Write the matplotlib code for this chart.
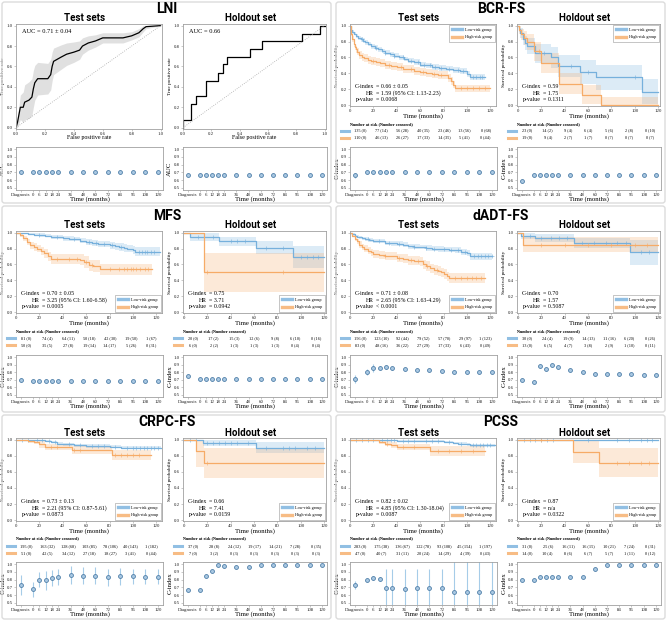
import numpy as np
import matplotlib
matplotlib.use("Agg")
import matplotlib.pyplot as plt
from matplotlib.lines import Line2D
from matplotlib.patches import FancyBboxPatch

# ---------------------------------------------------------------- data
months_cidx = [-12, 0, 6, 12, 18, 24, 36, 48, 60, 72, 84, 96, 108, 120]
months_cidx_labels = ["Diagnosis", "0", "6", "12", "18", "24", "36", "48", "60", "72", "84", "96", "108", "120"]

# LNI ROC
lni_test_fpr = [0, 0.01, 0.03, 0.05, 0.06, 0.09, 0.11, 0.12, 0.13, 0.15, 0.22, 0.24, 0.25, 0.26, 0.31, 0.35,
                0.40, 0.44, 0.46, 0.50, 0.55, 0.60, 0.74, 0.80, 0.85, 0.88, 0.90, 1.0]
lni_test_tpr = [0, 0.05, 0.20, 0.20, 0.25, 0.27, 0.30, 0.38, 0.44, 0.48, 0.48, 0.52, 0.60, 0.65, 0.69, 0.72,
                0.74, 0.76, 0.80, 0.83, 0.85, 0.88, 0.88, 0.90, 0.93, 0.97, 0.99, 1.0]
lni_test_std = [0, 0.05, 0.12, 0.15, 0.17, 0.18, 0.18, 0.18, 0.17, 0.16, 0.15, 0.15, 0.14, 0.13, 0.12, 0.11,
                0.10, 0.09, 0.08, 0.07, 0.06, 0.05, 0.05, 0.04, 0.04, 0.03, 0.02, 0]
lni_hold_fpr = [0, 0, 0.06, 0.09, 0.16, 0.25, 0.28, 0.31, 0.47, 0.56, 0.84, 0.97, 1.0]
lni_hold_tpr = [0, 0.08, 0.23, 0.31, 0.46, 0.54, 0.62, 0.69, 0.77, 0.85, 0.92, 1.0, 1.0]
lni_auc_test = [0.71] * 14
lni_auc_hold = [0.66] * 14

# BCR-FS
bcr_tl_t = [0, 1, 2, 3, 5, 7, 9, 11, 13, 15, 18, 21, 24, 27, 30, 34, 38, 42, 46, 50, 55, 60, 65, 70, 76, 82, 88, 94, 100, 103]
bcr_tl_s = [1.0, 0.95, 0.92, 0.90, 0.87, 0.85, 0.83, 0.81, 0.79, 0.77, 0.74, 0.72, 0.70, 0.68, 0.66, 0.64, 0.62, 0.60,
            0.58, 0.56, 0.54, 0.51, 0.50, 0.48, 0.47, 0.46, 0.44, 0.43, 0.39, 0.355]
bcr_tl_ci = [0, 0.015, 0.02, 0.02, 0.025, 0.025, 0.03, 0.03, 0.03, 0.03, 0.03, 0.03, 0.03, 0.03, 0.03, 0.03, 0.03,
             0.03, 0.03, 0.03, 0.035, 0.035, 0.035, 0.035, 0.035, 0.035, 0.04, 0.04, 0.04, 0.04]
bcr_tl_cens = [10, 22, 30, 38, 45, 52, 58, 63, 68, 73, 78, 85, 92, 97, 105, 108, 111, 113]
bcr_th_t = [0, 1, 2, 3, 4, 5, 6, 8, 10, 12, 15, 18, 22, 26, 30, 35, 40, 45, 50, 55, 60, 65, 70, 75, 80, 84, 86, 88, 90]
bcr_th_s = [1.0, 0.90, 0.83, 0.77, 0.73, 0.70, 0.67, 0.63, 0.61, 0.59, 0.57, 0.56, 0.54, 0.53, 0.51, 0.49, 0.48, 0.46,
            0.45, 0.43, 0.42, 0.41, 0.39, 0.38, 0.38, 0.34, 0.30, 0.26, 0.21]
bcr_th_ci = [0, 0.03, 0.035, 0.04, 0.04, 0.045, 0.045, 0.045, 0.05, 0.05, 0.05, 0.05, 0.05, 0.05, 0.05, 0.05, 0.05,
             0.05, 0.05, 0.05, 0.05, 0.05, 0.05, 0.05, 0.05, 0.05, 0.05, 0.05, 0.05]
bcr_th_cens = [20, 33, 44, 52, 62, 72, 78, 95, 100, 105, 110, 115]
bcr_hl_t = [0, 1, 2, 4, 6, 8, 15, 28, 34, 53, 67, 106]
bcr_hl_s = [1.0, 0.96, 0.91, 0.83, 0.78, 0.74, 0.65, 0.60, 0.49, 0.42, 0.35, 0.17]
bcr_hl_ci = [0, 0.04, 0.06, 0.08, 0.09, 0.10, 0.12, 0.13, 0.14, 0.15, 0.16, 0.16]
bcr_hl_cens = [22, 45, 60, 100]
bcr_hh_t = [0, 1, 3, 5, 8, 14, 20, 35, 55, 71]
bcr_hh_s = [1.0, 0.95, 0.89, 0.84, 0.79, 0.68, 0.53, 0.27, 0.13, 0.0]
bcr_hh_ci = [0, 0.05, 0.07, 0.09, 0.10, 0.12, 0.13, 0.13, 0.12, 0.10]
bcr_hh_cens = [18]
bcr_risk_tl = [(135, 0), (77, 14), (56, 28), (40, 35), (23, 46), (13, 56), (0, 68)]
bcr_risk_th = [(110, 0), (46, 13), (26, 27), (17, 33), (14, 35), (5, 41), (0, 44)]
bcr_risk_hl = [(23, 0), (14, 2), (9, 4), (6, 4), (5, 6), (2, 8), (0, 10)]
bcr_risk_hh = [(19, 0), (9, 4), (2, 7), (1, 7), (0, 7), (0, 7), (0, 7)]
bcr_c_test = [0.66, 0.71, 0.71, 0.71, 0.71, 0.71, 0.71, 0.71, 0.71, 0.71, 0.71, 0.71, 0.71, 0.71]
bcr_c_test_err = [0.03, 0.02, 0.02, 0.02, 0.02, 0.02, 0.02, 0.02, 0.02, 0.02, 0.02, 0.02, 0.02, 0.02]
bcr_c_hold = [0.59, 0.67, 0.67, 0.67, 0.67, 0.67, 0.67, 0.67, 0.67, 0.67, 0.67, 0.67, 0.67, 0.67]

# MFS
mfs_tl_t = [0, 5, 10, 15, 20, 25, 30, 35, 40, 45, 50, 55, 60, 65, 70, 75, 80, 85, 88, 92, 95, 100, 102]
mfs_tl_s = [1.0, 0.99, 0.985, 0.975, 0.97, 0.96, 0.95, 0.94, 0.93, 0.925, 0.92, 0.90, 0.88, 0.87, 0.86, 0.855, 0.84,
            0.83, 0.82, 0.81, 0.80, 0.78, 0.76]
mfs_tl_ci = [0, 0.01, 0.01, 0.015, 0.02, 0.02, 0.025, 0.025, 0.03, 0.03, 0.03, 0.035, 0.035, 0.04, 0.04, 0.04, 0.045,
             0.045, 0.045, 0.05, 0.05, 0.05, 0.055]
mfs_tl_cens = [20, 35, 50, 62, 68, 75, 82, 90, 105, 108, 110, 112, 115, 118]
mfs_th_t = [0, 3, 6, 9, 12, 15, 18, 21, 24, 27, 30, 55, 58, 62, 66, 72]
mfs_th_s = [1.0, 0.97, 0.93, 0.88, 0.84, 0.82, 0.80, 0.77, 0.74, 0.70, 0.67, 0.66, 0.63, 0.59, 0.58, 0.54]
mfs_th_ci = [0, 0.02, 0.03, 0.04, 0.045, 0.05, 0.05, 0.055, 0.06, 0.06, 0.065, 0.065, 0.07, 0.07, 0.07, 0.07]
mfs_th_cens = [35, 45, 52, 60, 65, 80, 88, 92, 95, 98, 100, 103, 106, 110, 113]
mfs_hl_t = [0, 5, 30, 62, 93]
mfs_hl_s = [1.0, 0.95, 0.89, 0.81, 0.69]
mfs_hl_ci = [0, 0.05, 0.06, 0.08, 0.14]
mfs_hl_cens = [12, 25, 40, 45, 52, 70, 85, 100, 105, 110, 115]
mfs_hh_t = [0, 17]
mfs_hh_s = [1.0, 0.50]
mfs_hh_ci = [0, 0.24]
mfs_hh_cens = [20, 85]
mfs_risk_tl = [(81, 0), (74, 4), (64, 11), (50, 18), (42, 30), (19, 50), (1, 67)]
mfs_risk_th = [(50, 0), (35, 5), (27, 8), (19, 14), (14, 17), (5, 26), (0, 31)]
mfs_risk_hl = [(20, 0), (17, 2), (15, 3), (12, 6), (9, 8), (6, 10), (0, 16)]
mfs_risk_hh = [(6, 0), (2, 2), (1, 3), (1, 3), (1, 3), (0, 4), (0, 4)]
mfs_c_test = [0.70, 0.69, 0.69, 0.69, 0.69, 0.69, 0.69, 0.69, 0.69, 0.69, 0.69, 0.69, 0.69, 0.69]
mfs_c_test_err = [0.03, 0.01, 0.01, 0.01, 0.01, 0.01, 0.01, 0.01, 0.01, 0.01, 0.01, 0.01, 0.01, 0.01]
mfs_c_hold = [0.75, 0.71, 0.71, 0.71, 0.71, 0.71, 0.71, 0.71, 0.71, 0.71, 0.71, 0.71, 0.71, 0.71]

# dADT-FS
dadt_tl_t = [0, 2, 4, 6, 8, 10, 13, 16, 20, 25, 30, 35, 40, 45, 50, 55, 60, 65, 70, 75, 80, 85, 90, 95, 100, 103]
dadt_tl_s = [1.0, 0.98, 0.96, 0.95, 0.94, 0.93, 0.92, 0.91, 0.90, 0.89, 0.87, 0.865, 0.86, 0.85, 0.83, 0.825, 0.82,
             0.81, 0.80, 0.795, 0.79, 0.785, 0.78, 0.76, 0.74, 0.70]
dadt_tl_ci = [0, 0.01, 0.015, 0.015, 0.02, 0.02, 0.02, 0.025, 0.025, 0.025, 0.03, 0.03, 0.03, 0.03, 0.03, 0.03,
              0.03, 0.035, 0.035, 0.035, 0.035, 0.035, 0.035, 0.04, 0.04, 0.04]
dadt_tl_cens = [15, 25, 33, 42, 55, 65, 72, 80, 86, 92, 98, 106, 109, 112, 115, 118, 121]
dadt_th_t = [0, 2, 4, 6, 8, 10, 12, 15, 18, 20, 25, 30, 35, 40, 45, 50, 55, 60, 62, 65, 68, 72, 75, 78, 80, 83, 85]
dadt_th_s = [1.0, 0.96, 0.92, 0.89, 0.85, 0.82, 0.80, 0.77, 0.75, 0.73, 0.72, 0.71, 0.70, 0.68, 0.67, 0.65, 0.645,
             0.64, 0.60, 0.58, 0.55, 0.53, 0.52, 0.50, 0.48, 0.45, 0.43]
dadt_th_ci = [0, 0.02, 0.03, 0.035, 0.04, 0.04, 0.045, 0.045, 0.05, 0.05, 0.05, 0.05, 0.05, 0.055, 0.055, 0.055,
              0.055, 0.055, 0.055, 0.06, 0.06, 0.06, 0.06, 0.06, 0.06, 0.06, 0.06]
dadt_th_cens = [30, 42, 52, 58, 66, 74, 90, 95, 100, 104, 108, 112]
dadt_hl_t = [0, 3, 15, 48, 96]
dadt_hl_s = [1.0, 0.96, 0.93, 0.87, 0.75]
dadt_hl_ci = [0, 0.04, 0.05, 0.06, 0.16]
dadt_hl_cens = [10, 20, 28, 35, 42, 55, 65, 75, 85, 92, 105, 112]
dadt_hh_t = [0, 4]
dadt_hh_s = [1.0, 0.85]
dadt_hh_ci = [0, 0.10]
dadt_hh_cens = [20, 40, 60, 80, 100, 110]
dadt_risk_tl = [(156, 0), (123, 10), (92, 44), (79, 52), (57, 70), (29, 97), (1, 123)]
dadt_risk_th = [(83, 0), (48, 16), (36, 22), (27, 29), (17, 33), (6, 43), (0, 49)]
dadt_risk_hl = [(30, 0), (24, 4), (19, 9), (14, 13), (11, 16), (6, 20), (0, 26)]
dadt_risk_hh = [(13, 0), (6, 5), (4, 7), (3, 8), (2, 9), (1, 10), (0, 11)]
dadt_c_test = [0.71, 0.80, 0.855, 0.86, 0.867, 0.855, 0.84, 0.83, 0.825, 0.82, 0.81, 0.805, 0.80, 0.80]
dadt_c_test_err = [0.05, 0.04, 0.05, 0.02, 0.02, 0.02, 0.01, 0.01, 0.01, 0.01, 0.01, 0.01, 0.01, 0.01]
dadt_c_hold = [0.70, 0.67, 0.88, 0.85, 0.90, 0.867, 0.83, 0.80, 0.78, 0.775, 0.775, 0.775, 0.76, 0.76]

# CRPC-FS
crpc_tl_t = [0, 15, 20, 25, 30, 35, 40, 50, 60, 80, 90]
crpc_tl_s = [1.0, 0.995, 0.99, 0.98, 0.97, 0.95, 0.94, 0.93, 0.92, 0.91, 0.90]
crpc_tl_ci = [0, 0.005, 0.008, 0.01, 0.012, 0.015, 0.015, 0.018, 0.02, 0.02, 0.022]
crpc_tl_cens = [5, 10, 18, 22, 28, 33, 45, 55, 65, 70, 75, 85, 95, 100, 103, 106, 109, 112, 115, 118, 121]
crpc_th_t = [0, 10, 15, 20, 25, 48, 82]
crpc_th_s = [1.0, 0.98, 0.97, 0.94, 0.91, 0.87, 0.81]
crpc_th_ci = [0, 0.02, 0.03, 0.04, 0.04, 0.05, 0.06]
crpc_th_cens = [30, 35, 50, 55, 85, 90, 95, 100, 105]
crpc_hl_t = [0, 16, 62]
crpc_hl_s = [1.0, 0.96, 0.90]
crpc_hl_ci = [0, 0.04, 0.07]
crpc_hl_cens = [5, 10, 20, 25, 30, 35, 40, 45, 55, 70, 85, 90, 95, 105, 112]
crpc_hh_t = [0, 10, 17]
crpc_hh_s = [1.0, 0.86, 0.71]
crpc_hh_ci = [0, 0.20, 0.19]
crpc_hh_cens = [20]
crpc_risk_tl = [(195, 0), (163, 32), (128, 68), (103, 85), (78, 106), (40, 143), (1, 182)]
crpc_risk_th = [(51, 0), (42, 5), (34, 12), (27, 18), (18, 27), (3, 41), (0, 44)]
crpc_risk_hl = [(37, 0), (28, 8), (24, 12), (19, 17), (14, 21), (7, 28), (0, 35)]
crpc_risk_hh = [(7, 0), (3, 2), (0, 3), (0, 3), (0, 3), (0, 3), (0, 3)]
crpc_c_test = [0.735, 0.675, 0.80, 0.79, 0.82, 0.835, 0.86, 0.85, 0.85, 0.83, 0.845, 0.845, 0.84, 0.84]
crpc_c_test_err = [0.13, 0.10, 0.10, 0.12, 0.10, 0.10, 0.12, 0.11, 0.11, 0.11, 0.11, 0.10, 0.10, 0.10]
crpc_c_hold = [0.66, 0.66, 0.853, 0.918, 0.99, 0.983, 0.966, 0.966, 0.995, 0.995, 0.995, 0.985, 0.985, 0.985]

# PCSS
pcss_tl_t = [0, 25, 30, 40, 60, 80, 88, 92, 100, 103]
pcss_tl_s = [1.0, 0.995, 0.99, 0.985, 0.98, 0.97, 0.96, 0.95, 0.94, 0.93]
pcss_tl_ci = [0, 0.004, 0.006, 0.008, 0.01, 0.012, 0.015, 0.015, 0.018, 0.02]
pcss_tl_cens = [5, 10, 15, 20, 27, 32, 35, 38, 45, 50, 55, 65, 70, 75, 85, 95, 105, 108, 111, 114, 117, 120]
pcss_th_t = [0, 20, 25, 30, 35, 40, 68]
pcss_th_s = [1.0, 0.99, 0.97, 0.95, 0.93, 0.91, 0.86]
pcss_th_ci = [0, 0.01, 0.02, 0.03, 0.035, 0.04, 0.06]
pcss_th_cens = [32, 45, 55, 75, 85, 95, 105]
pcss_hl_t = [0]
pcss_hl_s = [1.0]
pcss_hl_ci = [0]
pcss_hl_cens = [5, 10, 15, 20, 25, 30, 60, 85, 95, 105, 110, 115]
pcss_hh_t = [0, 47, 69]
pcss_hh_s = [1.0, 0.85, 0.71]
pcss_hh_ci = [0, 0.14, 0.18]
pcss_hh_cens = [20, 85, 95, 105, 112]
pcss_risk_tl = [(283, 0), (175, 38), (136, 67), (122, 78), (93, 108), (45, 154), (1, 197)]
pcss_risk_th = [(47, 0), (40, 7), (31, 11), (20, 24), (14, 29), (4, 39), (0, 43)]
pcss_risk_hl = [(31, 0), (25, 6), (16, 11), (16, 15), (10, 21), (7, 24), (0, 31)]
pcss_risk_hh = [(14, 0), (10, 4), (8, 6), (6, 7), (5, 7), (1, 11), (0, 12)]
pcss_c_test = [0.73, 0.79, 0.82, 0.81, 0.685, 0.685, 0.68, 0.685, 0.685, 0.685, 0.64, 0.64, 0.64, 0.64]
pcss_c_test_err = [0.05, 0.01, 0.03, 0.03, 0.26, 0.26, 0.26, 0.26, 0.26, 0.26, 0.40, 0.40, 0.40, 0.40]
pcss_c_hold = [0.79, 0.79, 0.84, 0.84, 0.84, 0.84, 0.84, 0.84, 0.935, 0.987, 0.987, 0.987, 0.987, 0.987]

# stats texts
stats = {
    "BCR-FS": ([("C-index", "= 0.66 ± 0.05"), ("HR", "= 1.59 (95% CI: 1.13-2.23)"), ("p-value", "= 0.0068")],
               [("C-index", "= 0.59"), ("HR", "= 1.75"), ("p-value", "= 0.1311")]),
    "MFS": ([("C-index", "= 0.70 ± 0.05"), ("HR", "= 3.25 (95% CI: 1.60-6.58)"), ("p-value", "= 0.0005")],
            [("C-index", "= 0.75"), ("HR", "= 3.71"), ("p-value", "= 0.0942")]),
    "dADT-FS": ([("C-index", "= 0.71 ± 0.08"), ("HR", "= 2.65 (95% CI: 1.63-4.29)"), ("p-value", "< 0.0001")],
                [("C-index", "= 0.70"), ("HR", "= 1.57"), ("p-value", "= 0.5087")]),
    "CRPC-FS": ([("C-index", "= 0.73 ± 0.13"), ("HR", "= 2.21 (95% CI: 0.87-5.61)"), ("p-value", "= 0.0873")],
                [("C-index", "= 0.66"), ("HR", "= 7.41"), ("p-value", "= 0.0159")]),
    "PCSS": ([("C-index", "= 0.82 ± 0.02"), ("HR", "= 4.85 (95% CI: 1.30-18.04)"), ("p-value", "= 0.0087")],
             [("C-index", "= 0.87"), ("HR", "= n/a"), ("p-value", "= 0.0322")]),
}

# ---------------------------------------------------------------- style
plt.rcParams.update({
    "font.family": ["Liberation Serif", "DejaVu Serif"],
    "axes.unicode_minus": False,
    "axes.edgecolor": "#a0a0a0", "axes.linewidth": 0.6,
    "xtick.color": "#a0a0a0", "ytick.color": "#a0a0a0",
    "xtick.labelcolor": "#222222", "ytick.labelcolor": "#222222",
    "xtick.major.size": 1.5, "ytick.major.size": 1.5,
    "xtick.major.width": 0.4, "ytick.major.width": 0.4,
    "xtick.labelsize": 3.5, "ytick.labelsize": 3.5,
    "xtick.major.pad": 0.8, "ytick.major.pad": 0.8,
    "axes.labelsize": 4.9, "axes.labelpad": 1.0,
})
BLUE = "#76b0dc"
ORANGE = "#f6ab67"
TITLE_FONT = "Roboto"

W, H = 669, 621
fig = plt.figure(figsize=(W / 100, H / 100), dpi=100)


def add_ax(x0, y0, x1, y1):
    return fig.add_axes([x0 / W, 1 - y1 / H, (x1 - x0) / W, (y1 - y0) / H])


def ftext(x, y, s, **kw):
    fig.text(x / W, 1 - y / H, s, **kw)


def place_xlabel(ax, px_below, ax_h):
    ax.xaxis.label.set_va("center")
    ax.xaxis.set_label_coords(0.5, -px_below / ax_h)


def km(ax, t, s, ci, end, cens, color):
    x = np.r_[t, end]
    y = np.r_[s, s[-1]]
    c = np.r_[ci, ci[-1]]
    ax.fill_between(x, np.clip(y - c, 0, 1), np.clip(y + c, 0, 1), step="post", color=color, alpha=0.25, lw=0)
    ax.step(x, y, where="post", color=color, lw=0.9)
    idx = np.searchsorted(t, cens, side="right") - 1
    ax.plot(cens, np.asarray(s)[idx], ls="none", marker="+", ms=2.6, mew=0.4, color=color)


def km_axes(ax, test, ax_h):
    ax.set_ylim(-0.01, 1.02)
    ax.set_xlim((0, 124.8) if test else (-0.8, 121.5))
    ax.set_xticks([0, 20, 40, 60, 80, 100, 120])
    ax.set_yticks([0, 0.2, 0.4, 0.6, 0.8, 1.0])
    ax.set_yticklabels(["0.0", "0.2", "0.4", "0.6", "0.8", "1.0"])
    ax.set_xlabel("Time (months)")
    place_xlabel(ax, 10.5, ax_h)
    ax.set_ylabel("Survival probability", fontsize=3.9)


def stats_text(ax, lines, xeq):
    for i, (a, b) in enumerate(lines):
        y = 0.235 - i * 0.08
        ax.text(xeq, y, a, ha="right", va="center", transform=ax.transAxes, fontsize=4.2)
        ax.text(xeq + 0.012, y, b, ha="left", va="center", transform=ax.transAxes, fontsize=4.2)


def legend(ax, loc):
    h = [Line2D([], [], color=BLUE, lw=2.4, alpha=0.8), Line2D([], [], color=ORANGE, lw=2.4, alpha=0.8)]
    lg = ax.legend(h, ["Low-risk group", "High-risk group"], loc=loc, fontsize=3.1, handlelength=2.3,
                   borderpad=0.6, labelspacing=0.8, handletextpad=0.7, fancybox=False, framealpha=1,
                   borderaxespad=0.3)
    lg.get_frame().set_linewidth(0.4)
    lg.get_frame().set_edgecolor("#999999")


def risk_table(xa0, xa1, ys, low, high):
    ftext(xa0, ys[0], "Number at risk (Number censored)", fontsize=3.1, weight="bold", ha="left", va="center")
    for y, row, col in [(ys[1], low, BLUE), (ys[2], high, ORANGE)]:
        fig.add_artist(Line2D([(xa0 - 9) / W, (xa0 - 1) / W], [1 - y / H] * 2, transform=fig.transFigure,
                              color=col, lw=2.2, alpha=0.8))
        for i, (n, c) in enumerate(row):
            x = xa0 + (i + 0.5) / 7 * (xa1 - xa0)
            ftext(x, y, f"{n} ({c})", fontsize=3.1, ha="center", va="center")


def cplot(ax, vals, errs, ylabel, ax_h):
    ax.errorbar(months_cidx, vals, yerr=errs, fmt="o", ms=2.8, mfc="#a9c8e2", mec="#4f7fa8", mew=0.6,
                ecolor="#a6cce8", elinewidth=0.8, capsize=0)
    ax.set_xticks(months_cidx)
    ax.set_xticklabels(months_cidx_labels)
    ax.set_xlim(-16.5, 125)
    ax.set_ylim(0.47, 1.03)
    ax.set_yticks([0.5, 0.6, 0.7, 0.8, 0.9, 1.0])
    ax.set_yticklabels(["0.5", "0.6", "0.7", "0.8", "0.9", "1.0"])
    ax.set_xlabel("Time (months)")
    place_xlabel(ax, 9.5, ax_h)
    ax.set_ylabel(ylabel)


# ---------------------------------------------------------------- layout
rows = [
    dict(panel=(2, 203), title_y=13.3, sub_y=21, km=(24, 106), risk=(124, 130.5, 137.5), c=(147, 190)),
    dict(panel=(206, 412), title_y=219.5, sub_y=227.8, km=(231, 313), risk=(331, 338, 345), c=(355, 397)),
    dict(panel=(415, 619), title_y=426, sub_y=435.5, km=(438, 521), risk=(538, 546, 553), c=(562, 605)),
]
cols = [2, 336]

km_data = {
    "BCR-FS": ((bcr_tl_t, bcr_tl_s, bcr_tl_ci, 115, bcr_tl_cens), (bcr_th_t, bcr_th_s, bcr_th_ci, 120, bcr_th_cens),
               (bcr_hl_t, bcr_hl_s, bcr_hl_ci, 120, bcr_hl_cens), (bcr_hh_t, bcr_hh_s, bcr_hh_ci, 120, bcr_hh_cens),
               bcr_risk_tl, bcr_risk_th, bcr_risk_hl, bcr_risk_hh,
               (bcr_c_test, bcr_c_test_err), (bcr_c_hold, None)),
    "MFS": ((mfs_tl_t, mfs_tl_s, mfs_tl_ci, 123, mfs_tl_cens), (mfs_th_t, mfs_th_s, mfs_th_ci, 116, mfs_th_cens),
            (mfs_hl_t, mfs_hl_s, mfs_hl_ci, 120, mfs_hl_cens), (mfs_hh_t, mfs_hh_s, mfs_hh_ci, 120, mfs_hh_cens),
            mfs_risk_tl, mfs_risk_th, mfs_risk_hl, mfs_risk_hh,
            (mfs_c_test, mfs_c_test_err), (mfs_c_hold, None)),
    "dADT-FS": ((dadt_tl_t, dadt_tl_s, dadt_tl_ci, 121, dadt_tl_cens),
                (dadt_th_t, dadt_th_s, dadt_th_ci, 115, dadt_th_cens),
                (dadt_hl_t, dadt_hl_s, dadt_hl_ci, 120, dadt_hl_cens),
                (dadt_hh_t, dadt_hh_s, dadt_hh_ci, 120, dadt_hh_cens),
                dadt_risk_tl, dadt_risk_th, dadt_risk_hl, dadt_risk_hh,
                (dadt_c_test, dadt_c_test_err), (dadt_c_hold, None)),
    "CRPC-FS": ((crpc_tl_t, crpc_tl_s, crpc_tl_ci, 124, crpc_tl_cens),
                (crpc_th_t, crpc_th_s, crpc_th_ci, 115, crpc_th_cens),
                (crpc_hl_t, crpc_hl_s, crpc_hl_ci, 120, crpc_hl_cens),
                (crpc_hh_t, crpc_hh_s, crpc_hh_ci, 120, crpc_hh_cens),
                crpc_risk_tl, crpc_risk_th, crpc_risk_hl, crpc_risk_hh,
                (crpc_c_test, crpc_c_test_err), (crpc_c_hold, None)),
    "PCSS": ((pcss_tl_t, pcss_tl_s, pcss_tl_ci, 124, pcss_tl_cens),
             (pcss_th_t, pcss_th_s, pcss_th_ci, 115, pcss_th_cens),
             (pcss_hl_t, pcss_hl_s, pcss_hl_ci, 120, pcss_hl_cens),
             (pcss_hh_t, pcss_hh_s, pcss_hh_ci, 120, pcss_hh_cens),
             pcss_risk_tl, pcss_risk_th, pcss_risk_hl, pcss_risk_hh,
             (pcss_c_test, pcss_c_test_err), (pcss_c_hold, None)),
}

grid = [["LNI", "BCR-FS"], ["MFS", "dADT-FS"], ["CRPC-FS", "PCSS"]]

for r, row in enumerate(rows):
    for c, px0 in enumerate(cols):
        name = grid[r][c]
        p0, p1 = row["panel"]
        fig.add_artist(FancyBboxPatch(((px0) / W, 1 - p1 / H), 329 / W, (p1 - p0) / H,
                                      boxstyle="round,pad=0,rounding_size=0.004", transform=fig.transFigure,
                                      fc="none", ec="#dcdcdc", lw=1.0))
        base = px0 - 2
        tx = (base + 16, base + 162)
        hx = (base + 183, base + 326)
        ftext(base + 167, row["title_y"], name, fontsize=10, family=TITLE_FONT, weight="bold",
              ha="center", va="baseline")
        ftext(base + 85, row["sub_y"], "Test sets", fontsize=7, family=TITLE_FONT, weight="bold",
              ha="center", va="baseline")
        ftext(base + 251, row["sub_y"], "Holdout set", fontsize=7, family=TITLE_FONT, weight="bold",
              ha="center", va="baseline")
        ky0, ky1 = row["km"]
        cy0, cy1 = row["c"]
        if name == "LNI":
            a1 = add_ax(tx[0], ky0, tx[1], 129)
            a2 = add_ax(hx[0], ky0, hx[1], 129)
            lo = np.array(lni_test_tpr) - np.array(lni_test_std)
            hi = np.array(lni_test_tpr) + np.array(lni_test_std)
            a1.fill_between(lni_test_fpr, np.clip(lo, 0, 1), np.clip(hi, 0, 1), color="#d9d9d9", alpha=0.8, lw=0)
            a1.plot(lni_test_fpr, lni_test_tpr, color="black", lw=0.9)
            a2.plot(lni_hold_fpr, lni_hold_tpr, color="black", lw=0.9, drawstyle="steps-post")
            for a, txt in [(a1, "AUC = 0.71 ± 0.04"), (a2, "AUC = 0.66")]:
                a.plot([0, 1], [0, 1], ls=":", color="#aaaaaa", lw=0.6)
                a.set_xlim(0, 1.01)
                a.set_ylim(-0.013, 1.016)
                a.set_xticks([0, 0.2, 0.4, 0.6, 0.8, 1.0])
                a.set_xticklabels(["0.0", "0.2", "0.4", "0.6", "0.8", "1.0"])
                a.set_yticks([0, 0.2, 0.4, 0.6, 0.8, 1.0])
                a.set_yticklabels(["0.0", "0.2", "0.4", "0.6", "0.8", "1.0"])
                a.set_xlabel("False positive rate", fontsize=4.3)
                place_xlabel(a, 8.5, 129 - ky0)
                a.set_ylabel("True positive rate", fontsize=3.9)
                a.text(0.04, 0.955, txt, transform=a.transAxes, fontsize=4.6, ha="left", va="top")
            c1 = add_ax(tx[0], cy0, tx[1] + 1, cy1)
            c2 = add_ax(hx[0], cy0, hx[1] + 1, cy1)
            cplot(c1, lni_auc_test, None, "AUC", cy1 - cy0)
            cplot(c2, lni_auc_hold, None, "AUC", cy1 - cy0)
            continue
        d = km_data[name]
        a1 = add_ax(tx[0], ky0, tx[1], ky1)
        a2 = add_ax(hx[0], ky0, hx[1], ky1)
        km(a1, *d[0][:3], d[0][3], d[0][4], BLUE)
        km(a1, *d[1][:3], d[1][3], d[1][4], ORANGE)
        km(a2, *d[2][:3], d[2][3], d[2][4], BLUE)
        km(a2, *d[3][:3], d[3][3], d[3][4], ORANGE)
        km_axes(a1, True, ky1 - ky0)
        km_axes(a2, False, ky1 - ky0)
        loc = "upper right" if name == "BCR-FS" else "lower right"
        legend(a1, loc)
        legend(a2, loc)
        stats_text(a1, stats[name][0], 0.165)
        stats_text(a2, stats[name][1], 0.17)
        risk_table(tx[0], tx[1], row["risk"], d[4], d[5])
        risk_table(hx[0], hx[1], row["risk"], d[6], d[7])
        c1 = add_ax(tx[0], cy0, tx[1] + 1, cy1)
        c2 = add_ax(hx[0], cy0, hx[1] + 1, cy1)
        cplot(c1, d[8][0], d[8][1], "C-index", cy1 - cy0)
        cplot(c2, d[9][0], d[9][1], "C-index", cy1 - cy0)

fig.savefig("out.png", dpi=100, facecolor="white")
